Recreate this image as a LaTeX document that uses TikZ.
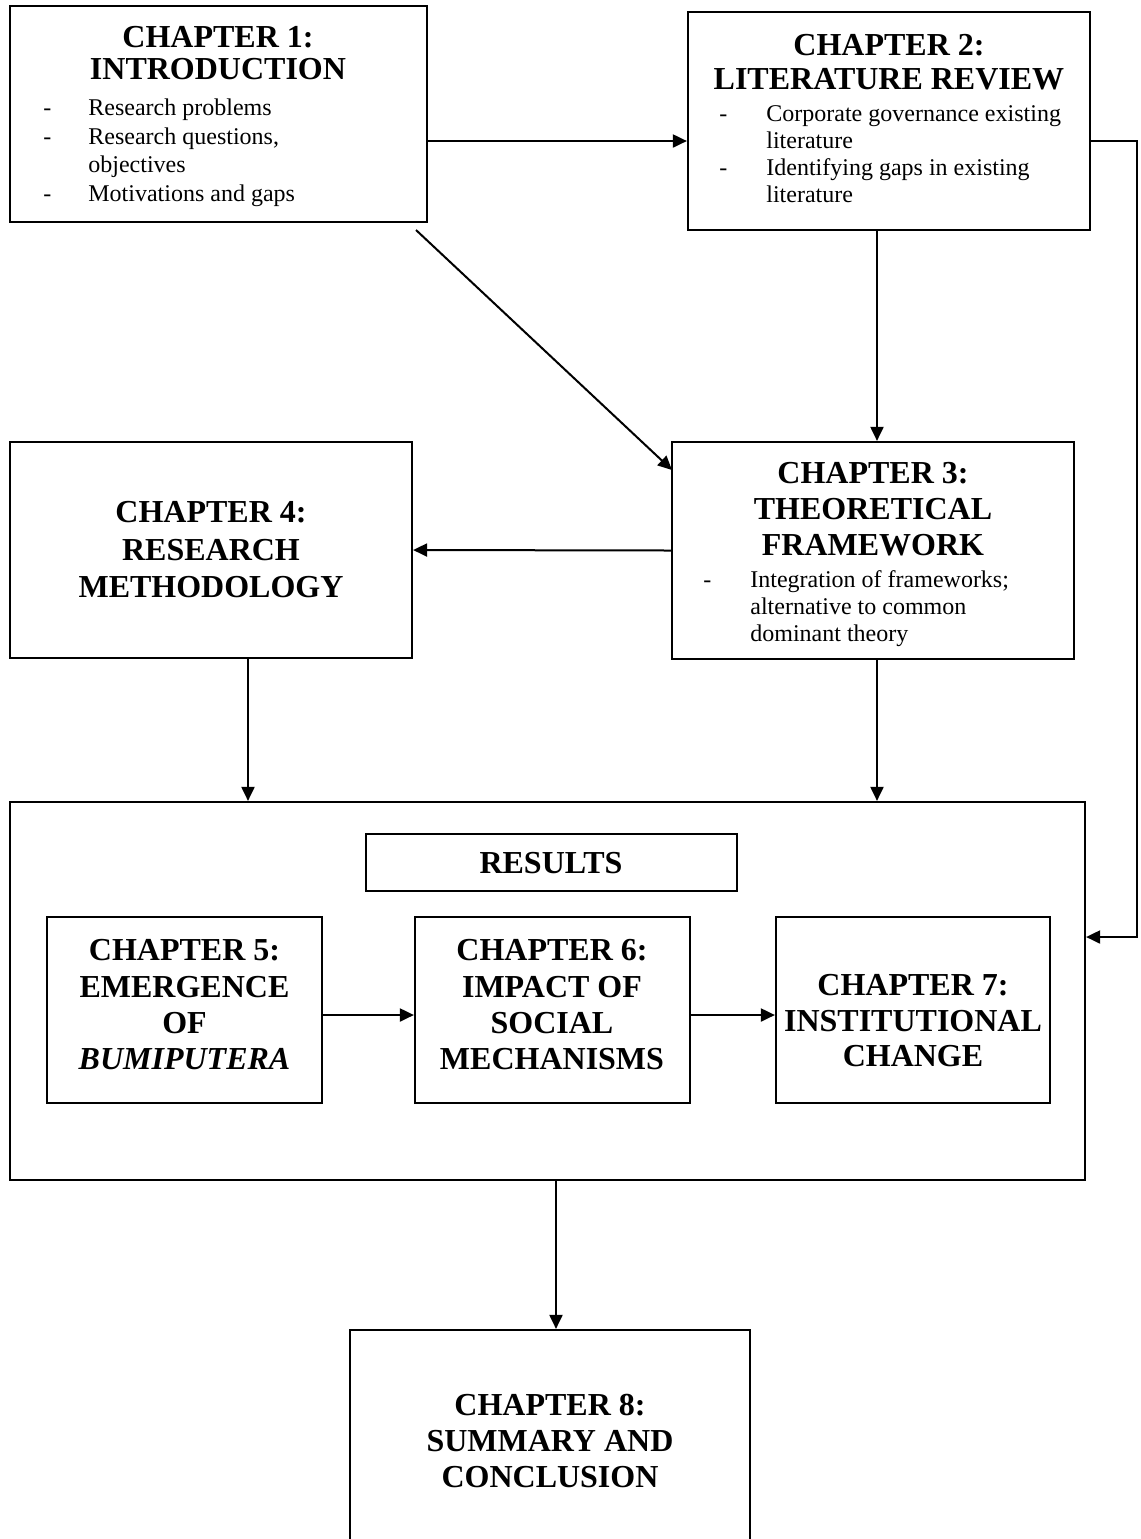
\documentclass[tikz,border=0pt]{standalone}
\usepackage{fontspec}
\setmainfont{Liberation Serif}
\usetikzlibrary{arrows.meta,fit}
\begin{document}
\begin{tikzpicture}[x=0.5pt,y=-0.5pt,
  box/.style={draw, line width=1.1pt, inner sep=0pt, rectangle},
  ttl/.style={font=\fontsize{16}{16}\selectfont\bfseries, inner sep=0pt, anchor=base},
  bdy/.style={font=\fontsize{12}{12}\selectfont, inner sep=0pt, anchor=base west},
  arr/.style={line width=1pt, -{Triangle[length=7pt,width=6.5pt]}}]
\useasboundingbox (0,0) rectangle (1141,1539);
\clip (0,0) rectangle (1141,1539);
\fill[white] (0,0) rectangle (1141,1539);

% boxes
\node[box, fit={(10,6)(427,222)}] (c1) {};
\node[box, fit={(688,12)(1090,230)}] (c2) {};
\node[box, fit={(672,442)(1074,659)}] (c3) {};
\node[box, fit={(10,442)(412,658)}] (c4) {};
\node[box, fit={(10,802)(1085,1180)}] (res) {};
\node[box, fit={(366,834)(737,891)}] (rlab) {};
\node[box, fit={(47,917)(322,1103)}] (c5) {};
\node[box, fit={(415,917)(690,1103)}] (c6) {};
\node[box, fit={(776,917)(1050,1103)}] (c7) {};
\node[box, fit={(350,1330)(750,1600)}] (c8) {};

% chapter 1
\node[ttl] (c1a) at (218,47) {CHAPTER 1:};
\node[ttl] (c1b) at (218,79) {INTRODUCTION};
\node[bdy] (c1d1) at (43,115) {-};
\node[bdy] (c1l1) at (88,115) {Research problems};
\node[bdy] (c1d2) at (43,144) {-};
\node[bdy] (c1l2) at (88,144) {Research questions,};
\node[bdy] (c1l3) at (88,172) {objectives};
\node[bdy] (c1d3) at (43,201) {-};
\node[bdy] (c1l4) at (88,201) {Motivations and gaps};

% chapter 2
\node[ttl] (c2a) at (889,55) {CHAPTER 2:};
\node[ttl] (c2b) at (889,89) {LITERATURE REVIEW};
\node[bdy] (c2d1) at (719,121) {-};
\node[bdy] (c2l1) at (766,121) {Corporate governance existing};
\node[bdy] (c2l2) at (766,148) {literature};
\node[bdy] (c2d2) at (719,175) {-};
\node[bdy] (c2l3) at (766,175) {Identifying gaps in existing};
\node[bdy] (c2l4) at (766,202) {literature};

% chapter 3
\node[ttl] (c3a) at (873,483) {CHAPTER 3:};
\node[ttl] (c3b) at (873,519) {THEORETICAL};
\node[ttl] (c3c) at (873,555) {FRAMEWORK};
\node[bdy] (c3d1) at (703,587) {-};
\node[bdy] (c3l1) at (750,587) {Integration of frameworks;};
\node[bdy] (c3l2) at (750,614) {alternative to common};
\node[bdy] (c3l3) at (750,641) {dominant theory};

% chapter 4
\node[ttl] (c4a) at (211,522) {CHAPTER 4:};
\node[ttl] (c4b) at (211,560) {RESEARCH};
\node[ttl] (c4c) at (211,597) {METHODOLOGY};

% results
\node[ttl] (rt) at (551,873) {RESULTS};

% chapter 5
\node[ttl] (c5a) at (184.5,960) {CHAPTER 5:};
\node[ttl] (c5b) at (184.5,997) {EMERGENCE};
\node[ttl] (c5c) at (184.5,1033) {OF};
\node[ttl] (c5d) at (184.5,1069) {\textit{BUMIPUTERA}};

% chapter 6
\node[ttl] (c6a) at (552,960) {CHAPTER 6:};
\node[ttl] (c6b) at (552,997) {IMPACT OF};
\node[ttl] (c6c) at (552,1033) {SOCIAL};
\node[ttl] (c6d) at (552,1069) {MECHANISMS};

% chapter 7
\node[ttl] (c7a) at (913,995) {CHAPTER 7:};
\node[ttl] (c7b) at (913,1031) {INSTITUTIONAL};
\node[ttl] (c7c) at (913,1066) {CHANGE};

% chapter 8
\node[ttl] (c8a) at (550,1415) {CHAPTER 8:};
\node[ttl] (c8b) at (550,1451) {SUMMARY AND};
\node[ttl] (c8c) at (550,1487) {CONCLUSION};

% helper coordinates
\coordinate (h12) at (0,141);
\coordinate (fb1) at (1137,141);
\coordinate (fb2) at (1137,937);
\coordinate (d1) at (416,230);
\coordinate (d2) at (672,470);
\coordinate (v23) at (877,0);
\coordinate (v4) at (248,0);
\coordinate (h56) at (0,1015);
\coordinate (v8) at (556,0);

% connectors
\draw[arr] (c1.east |- h12) -- (c2.west |- h12);
\draw[arr] (c2.east |- fb1) -- (fb1) -- (fb2) -- (res.east |- fb2);
\draw[arr] (d1) -- (d2);
\draw[arr] (c2.south -| v23) -- (c3.north -| v23);
\draw[arr] (c3.west) -- (c4.east);
\draw[arr] (c4.south -| v4) -- (res.north -| v4);
\draw[arr] (c3.south -| v23) -- (res.north -| v23);
\draw[arr] (c5.east |- h56) -- (c6.west |- h56);
\draw[arr] (c6.east |- h56) -- (c7.west |- h56);
\draw[arr] (res.south -| v8) -- (c8.north -| v8);
\end{tikzpicture}
\end{document}
